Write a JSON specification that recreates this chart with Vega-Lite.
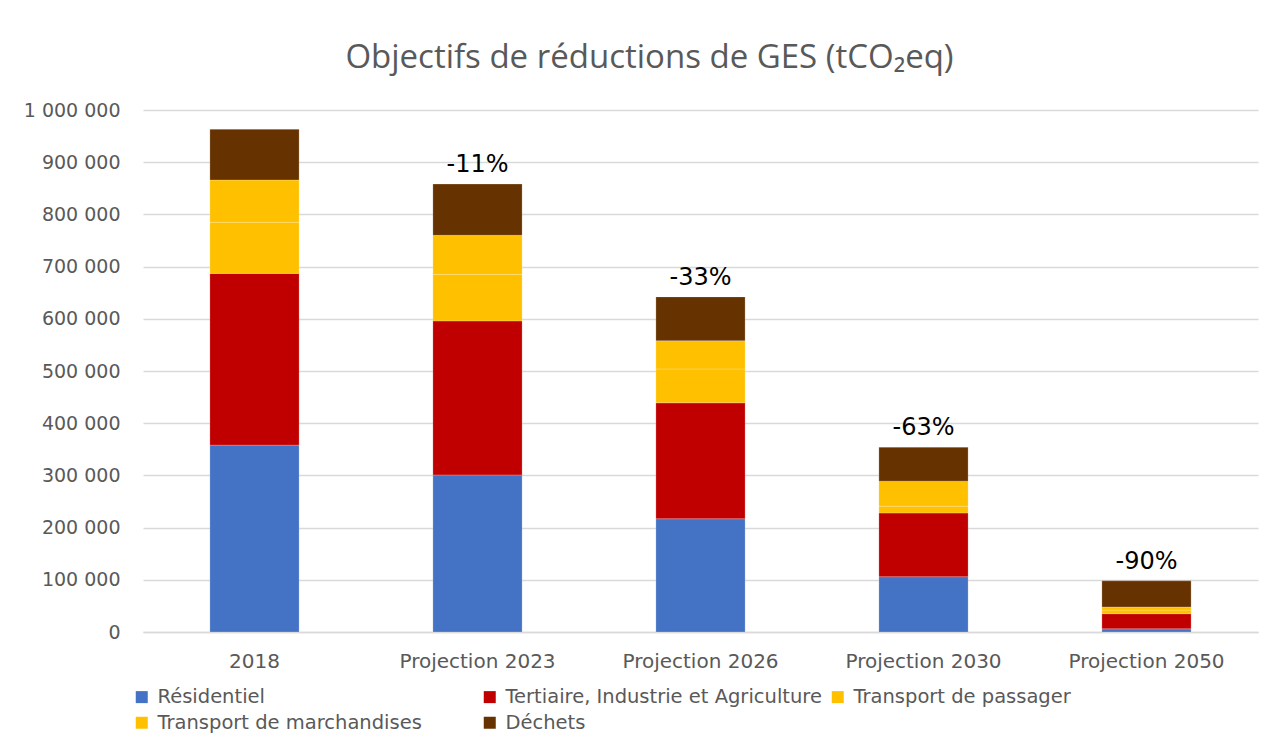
{
  "$schema": "https://vega.github.io/schema/vega-lite/v6.json",
  "width": 1115,
  "height": 522,
  "autosize": {"type": "none"},
  "padding": {"left": 143, "top": 110, "right": 20, "bottom": 117},
  "background": "white",
  "config": {
    "font": "DejaVu Sans",
    "locale": {"number": {"decimal": ",", "thousands": "\u00a0", "grouping": [3], "currency": ["", "\u00a0€"]}},
    "view": {"stroke": null}
  },
  "title": {
    "text": "Objectifs de réductions de GES (tCO₂eq)",
    "fontSize": 33,
    "fontWeight": "normal",
    "color": "#595959",
    "anchor": "middle",
    "dx": -51,
    "offset": 26,
    "font": "Open Sans"
  },
  "datasets": {
    "bars": [
      {"cat": "2018", "serie": "Résidentiel", "k": 1, "v": 358000},
      {"cat": "2018", "serie": "Tertiaire, Industrie et Agriculture", "k": 2, "v": 329000},
      {"cat": "2018", "serie": "Transport de passager", "k": 3, "v": 98000},
      {"cat": "2018", "serie": "Transport de marchandises", "k": 4, "v": 81000},
      {"cat": "2018", "serie": "Déchets", "k": 5, "v": 97000},
      {"cat": "Projection 2023", "serie": "Résidentiel", "k": 1, "v": 301000},
      {"cat": "Projection 2023", "serie": "Tertiaire, Industrie et Agriculture", "k": 2, "v": 295000},
      {"cat": "Projection 2023", "serie": "Transport de passager", "k": 3, "v": 89000},
      {"cat": "Projection 2023", "serie": "Transport de marchandises", "k": 4, "v": 75000},
      {"cat": "Projection 2023", "serie": "Déchets", "k": 5, "v": 98000},
      {"cat": "Projection 2026", "serie": "Résidentiel", "k": 1, "v": 217000},
      {"cat": "Projection 2026", "serie": "Tertiaire, Industrie et Agriculture", "k": 2, "v": 222000},
      {"cat": "Projection 2026", "serie": "Transport de passager", "k": 3, "v": 65000},
      {"cat": "Projection 2026", "serie": "Transport de marchandises", "k": 4, "v": 54000},
      {"cat": "Projection 2026", "serie": "Déchets", "k": 5, "v": 84000},
      {"cat": "Projection 2030", "serie": "Résidentiel", "k": 1, "v": 106000},
      {"cat": "Projection 2030", "serie": "Tertiaire, Industrie et Agriculture", "k": 2, "v": 122000},
      {"cat": "Projection 2030", "serie": "Transport de passager", "k": 3, "v": 13000},
      {"cat": "Projection 2030", "serie": "Transport de marchandises", "k": 4, "v": 48000},
      {"cat": "Projection 2030", "serie": "Déchets", "k": 5, "v": 65000},
      {"cat": "Projection 2050", "serie": "Résidentiel", "k": 1, "v": 6000},
      {"cat": "Projection 2050", "serie": "Tertiaire, Industrie et Agriculture", "k": 2, "v": 29000},
      {"cat": "Projection 2050", "serie": "Transport de passager", "k": 3, "v": 7000},
      {"cat": "Projection 2050", "serie": "Transport de marchandises", "k": 4, "v": 6000},
      {"cat": "Projection 2050", "serie": "Déchets", "k": 5, "v": 50000}
    ],
    "labels": [
      {"cat": "Projection 2023", "total": 858000, "pct": "-11%"},
      {"cat": "Projection 2026", "total": 642000, "pct": "-33%"},
      {"cat": "Projection 2030", "total": 354000, "pct": "-63%"},
      {"cat": "Projection 2050", "total": 98000, "pct": "-90%"}
    ]
  },
  "encoding": {
    "x": {
      "field": "cat",
      "type": "nominal",
      "sort": null,
      "title": null,
      "scale": {"paddingInner": 0.6, "paddingOuter": 0.3},
      "axis": {
        "labelAngle": 0,
        "labelFontSize": 20,
        "labelColor": "#595959",
        "labelPadding": 19,
        "ticks": false,
        "domainColor": "#d9d9d9",
        "domainWidth": 1.5
      }
    }
  },
  "layer": [
    {
      "data": {"name": "bars"},
      "mark": {"type": "bar", "stroke": "#ffffff", "strokeWidth": 0.6, "strokeOpacity": 0.35},
      "encoding": {
        "y": {
          "field": "v",
          "type": "quantitative",
          "stack": "zero",
          "title": null,
          "scale": {"domain": [0, 1000000], "nice": false},
          "axis": {
            "values": [0, 100000, 200000, 300000, 400000, 500000, 600000, 700000, 800000, 900000, 1000000],
            "format": ",d",
            "labelOverlap": false,
            "labelFontSize": 19,
            "labelColor": "#595959",
            "labelPadding": 23,
            "ticks": false,
            "domain": false,
            "gridColor": "#d9d9d9",
            "gridWidth": 1.5
          }
        },
        "order": {"field": "k", "type": "quantitative", "sort": "ascending"},
        "color": {
          "field": "serie",
          "type": "nominal",
          "scale": {
            "domain": ["Résidentiel", "Tertiaire, Industrie et Agriculture", "Transport de passager", "Transport de marchandises", "Déchets"],
            "range": ["#4472C4", "#C00000", "#FFC000", "#FFC000", "#663300"]
          },
          "legend": {
            "title": null,
            "orient": "none",
            "legendX": -11,
            "legendY": 577,
            "direction": "horizontal",
            "columns": 3,
            "gridAlign": "all",
            "columnPadding": 6,
            "rowPadding": 5,
            "symbolType": "square",
            "symbolSize": 144,
            "symbolStrokeWidth": 0,
            "labelFontSize": 19.5,
            "labelColor": "#595959",
            "labelOffset": 6,
            "labelLimit": 400
          }
        }
      }
    },
    {
      "data": {"name": "labels"},
      "mark": {"type": "text", "fontSize": 24, "color": "#000000", "baseline": "alphabetic", "dy": -12},
      "encoding": {
        "y": {"field": "total", "type": "quantitative"},
        "text": {"field": "pct"}
      }
    }
  ]
}
